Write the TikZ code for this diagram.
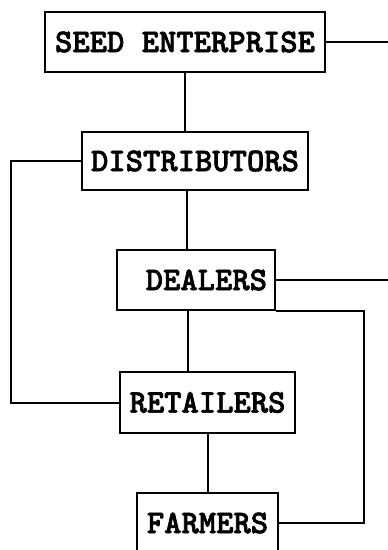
\documentclass[tikz,border=0pt]{standalone}
\usepackage{fontspec}
\newfontfamily\typedfont{lmmonolt10-bold.otf}[FakeBold=2]
\usetikzlibrary{positioning}

\begin{document}
\begin{tikzpicture}[x=1pt,y=-1pt,line join=miter]
  \tikzset{
    stage/.style={draw, line width=2pt, inner sep=0pt,
      font=\typedfont\fontsize{33}{36}\selectfont},
    link/.style={line width=2pt}
  }
  \clip (0,0) rectangle (388,550);
  %%
  % Node: seed
  \node[stage, minimum width=280pt, minimum height=60pt] (seed) at (185,42) {SEED ENTERPRISE};
  % Node: dist
  \node[stage, minimum width=226pt, minimum height=58pt] (dist) at (195,161) {DISTRIBUTORS};
  % Node: deal
  \node[stage, minimum width=158pt, minimum height=60pt, text width=142pt, align=right] (deal) at (196,280) {DEALERS};
  % Node: ret
  \node[stage, minimum width=175pt, minimum height=61pt] (ret) at (207.5,402.5) {RETAILERS};
  % Node: farm
  \node[stage, minimum width=141pt, minimum height=60pt] (farm) at (207.5,523) {FARMERS};
  % open ends on the right
  \coordinate (seedout) at (392,42);
  \coordinate (dealout) at (392,280);
  %%
  % Edge: seed -> seedout
  \draw[link] (seed.east) -- (seedout);
  % Edge: seed -> dist
  \draw[link] (seed.south) -- (seed.south |- dist.north);
  % Edge: dist -> ret (left loop)
  \draw[link] (dist.west) -- ++(-70,0) |- (ret.west);
  % Edge: dist -> deal
  \draw[link] ([xshift=-8pt]dist.south) -- ([xshift=-8pt]dist.south |- deal.north);
  % Edge: deal -> dealout
  \draw[link] (deal.east) -- (dealout);
  % Edge: deal -> farm (right loop)
  \draw[link] (deal.south east) -- ++(88,0) |- (farm.east);
  % Edge: deal -> ret
  \draw[link] ([xshift=-8pt]deal.south) -- ([xshift=-8pt]deal.south |- ret.north);
  % Edge: ret -> farm
  \draw[link] (ret.south) -- (farm.north);
  %
\end{tikzpicture}
\end{document}
